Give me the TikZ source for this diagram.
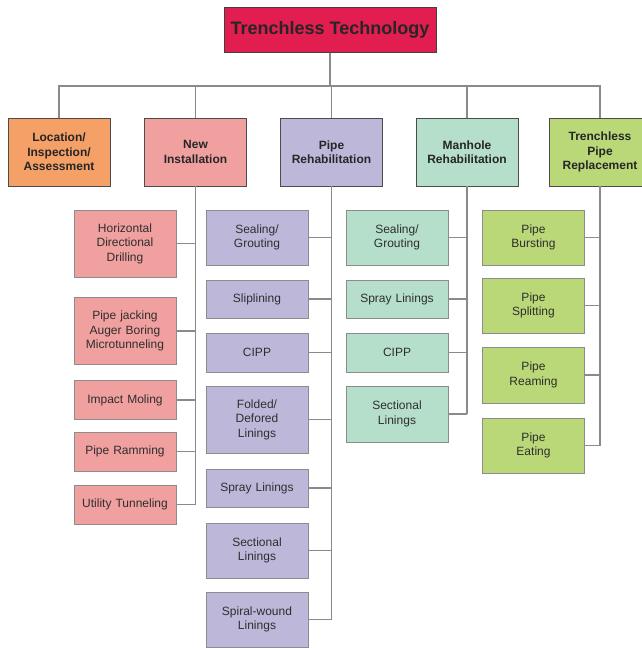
\documentclass[tikz,border=0pt]{standalone}
\usepackage{fontspec}
\setmainfont{Liberation Sans}
\begin{document}
\definecolor{rootc}{HTML}{E21D4F}
\definecolor{locc}{HTML}{F4A066}
\definecolor{newc}{HTML}{F1A0A0}
\definecolor{pipec}{HTML}{BDB8DA}
\definecolor{manc}{HTML}{B6DFCB}
\definecolor{tprc}{HTML}{BAD878}
\definecolor{linec}{HTML}{8A8A8A}
\definecolor{txt}{HTML}{2E2E2E}
\begin{tikzpicture}[x=1pt,y=-1pt,
  base/.style={rectangle,inner sep=0pt,align=center,text=txt},
  rootbox/.style={base,draw=black!75,line width=1pt,fill=rootc,minimum width=212pt,minimum height=45pt,
    font=\fontsize{18}{21}\selectfont\bfseries,text=black!85},
  head/.style={base,draw=black!70,line width=0.9pt,minimum width=102pt,minimum height=68pt,text width=100pt,
    font=\fontsize{12}{14.5}\selectfont\bfseries,text=black!85},
  kid/.style={base,draw=black!45,line width=1pt,minimum width=102pt,text width=100pt,
    font=\fontsize{12}{14.5}\selectfont},
  link/.style={draw=linec,line width=1.1pt}]
\useasboundingbox (0,0) rectangle (642,648);

% root and first level
\node[rootbox] (root) at (330,29.5) {Trenchless Technology};
\coordinate (bus) at (330,86);
\node[head,fill=locc]  (loc) at (59,152) {Location/\\Inspection/\\Assessment};
\node[head,fill=newc]  (new) at (195.5,152) {New\\Installation};
\node[head,fill=pipec] (reh) at (331.5,152) {Pipe\\Rehabilitation};
\node[head,fill=manc]  (man) at (467,152) {Manhole\\Rehabilitation};
\node[head,fill=tprc]  (tpr) at (600,152) {Trenchless\\Pipe\\Replacement};

\foreach \n in {loc,new,reh,man,tpr}
  \draw[link] (root.south) -- (root.south |- bus) -| (\n.north);

% new installation
\node[kid,fill=newc,minimum height=67pt] (n1) at (125,243.5) {Horizontal\\Directional\\Drilling};
\node[kid,fill=newc,minimum height=67pt] (n2) at (125,331) {Pipe jacking\\Auger Boring\\Microtunneling};
\node[kid,fill=newc,minimum height=39pt] (n3) at (125,400) {Impact Moling};
\node[kid,fill=newc,minimum height=39pt] (n4) at (125,451.5) {Pipe Ramming};
\node[kid,fill=newc,minimum height=39pt] (n5) at (125,504.5) {Utility Tunneling};

% pipe rehabilitation
\node[kid,fill=pipec,minimum height=55pt] (p1) at (257,237.5) {Sealing/\\Grouting};
\node[kid,fill=pipec,minimum height=38pt] (p2) at (257,299) {Sliplining};
\node[kid,fill=pipec,minimum height=39pt] (p3) at (257,352.5) {CIPP};
\node[kid,fill=pipec,minimum height=67pt] (p4) at (257,419.5) {Folded/\\Defored\\Linings};
\node[kid,fill=pipec,minimum height=38pt] (p5) at (257,488) {Spray Linings};
\node[kid,fill=pipec,minimum height=55pt] (p6) at (257,550.5) {Sectional\\Linings};
\node[kid,fill=pipec,minimum height=55pt] (p7) at (257,619.5) {Spiral-wound\\Linings};

% manhole rehabilitation
\node[kid,fill=manc,minimum height=55pt] (m1) at (397,237.5) {Sealing/\\Grouting};
\node[kid,fill=manc,minimum height=38pt] (m2) at (397,299) {Spray Linings};
\node[kid,fill=manc,minimum height=39pt] (m3) at (397,352.5) {CIPP};
\node[kid,fill=manc,minimum height=56pt] (m4) at (397,414) {Sectional\\Linings};

% trenchless pipe replacement
\node[kid,fill=tprc,minimum height=55pt] (t1) at (533.5,237.5) {Pipe\\Bursting};
\node[kid,fill=tprc,minimum height=55pt] (t2) at (533.5,305.5) {Pipe\\Splitting};
\node[kid,fill=tprc,minimum height=56pt] (t3) at (533.5,375) {Pipe\\Reaming};
\node[kid,fill=tprc,minimum height=55pt] (t4) at (533.5,445.5) {Pipe\\Eating};

% trunks and branches
\draw[link] (new.south) -- (new.south |- n5.east);
\foreach \k in {n1,n2,n3,n4,n5} \draw[link] (\k.east) -- (\k.east -| new.south);
\draw[link] (reh.south) -- (reh.south |- p7.east);
\foreach \k in {p1,p2,p3,p4,p5,p6,p7} \draw[link] (\k.east) -- (\k.east -| reh.south);
\draw[link] (man.south) -- (man.south |- m4.east);
\foreach \k in {m1,m2,m3,m4} \draw[link] (\k.east) -- (\k.east -| man.south);
\draw[link] (tpr.south) -- (tpr.south |- t4.east);
\foreach \k in {t1,t2,t3,t4} \draw[link] (\k.east) -- (\k.east -| tpr.south);
\end{tikzpicture}
\end{document}
